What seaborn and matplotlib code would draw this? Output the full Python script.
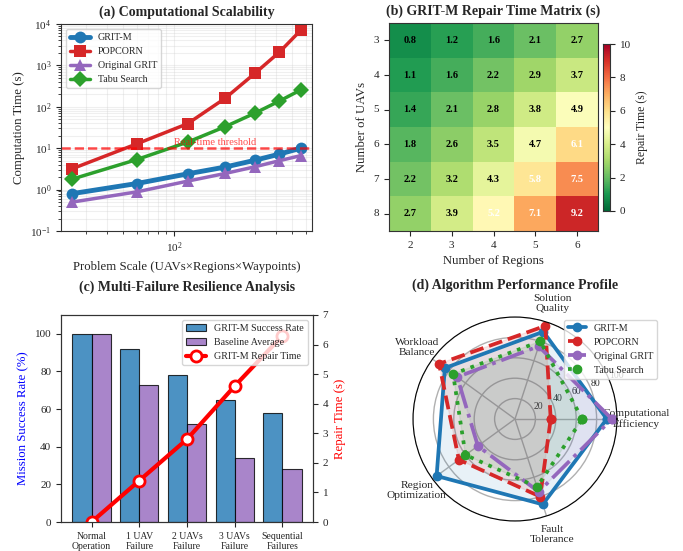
import numpy as np
import pandas as pd
import matplotlib
matplotlib.use("Agg")
import matplotlib.pyplot as plt
import seaborn as sns

# ---------------- data ----------------
problem_scale = [25, 60, 120, 200, 300, 420, 560]
time_gritm = [0.8, 1.4, 2.4, 3.5, 5.1, 7.2, 10.0]
time_popcorn = [3.2, 12.7, 39, 160, 640, 2100, 7000]
time_orig = [0.5, 0.88, 1.6, 2.45, 3.55, 5.0, 6.6]
time_tabu = [1.8, 5.3, 14, 33, 70, 138, 255]
threshold = 10

uavs = [3, 4, 5, 6, 7, 8]
regions = [2, 3, 4, 5, 6]
repair_matrix = [
    [0.8, 1.2, 1.6, 2.1, 2.7],
    [1.1, 1.6, 2.2, 2.9, 3.7],
    [1.4, 2.1, 2.8, 3.8, 4.9],
    [1.8, 2.6, 3.5, 4.7, 6.1],
    [2.2, 3.2, 4.3, 5.8, 7.5],
    [2.7, 3.9, 5.2, 7.1, 9.2],
]

scenarios = ["Normal\nOperation", "1 UAV\nFailure", "2 UAVs\nFailure",
             "3 UAVs\nFailure", "Sequential\nFailures"]
success_gritm = [100, 92, 78, 65, 58]
success_baseline = [100, 73, 52, 34, 28]
repair_time = [0, 1.4, 2.8, 4.6, 6.3]

radar_categories = ["Computational\nEfficiency", "Solution\nQuality", "Workload\nBalance",
                    "Region\nOptimization", "Fault\nTolerance"]
radar_gritm = [90, 90, 85, 95, 88]
radar_popcorn = [35, 96, 92, 68, 80]
radar_orig = [95, 75, 70, 45, 75]
radar_tabu = [66, 80, 75, 60, 70]

# ---------------- style ----------------
sns.set_style("ticks")
plt.rcParams["font.family"] = ["Liberation Serif", "DejaVu Serif"]
plt.rcParams["mathtext.fontset"] = "stix"
plt.rcParams["axes.edgecolor"] = "#333333"

C_BLUE, C_RED, C_PURPLE, C_GREEN = "#1f77b4", "#d62728", "#9467bd", "#2ca02c"
TITLE = dict(fontsize=10, fontweight="bold")
LAB = 9.2
TICK = 8
LEG = 7.2

fig = plt.figure(figsize=(6.83, 5.51), dpi=100)
W, H = 683, 551


def rect(x0, y0, x1, y1):
    return [x0 / W, 1 - y1 / H, (x1 - x0) / W, (y1 - y0) / H]


# ---------------- (a) ----------------
ax_a = fig.add_axes(rect(61, 24, 312, 231))
series_a = [("GRIT-M", time_gritm, C_BLUE, "o", 3.5),
            ("POPCORN", time_popcorn, C_RED, "s", 2.5),
            ("Original GRIT", time_orig, C_PURPLE, "^", 2.5),
            ("Tabu Search", time_tabu, C_GREEN, "D", 2.5)]
for name, vals, col, mk, lw in series_a:
    sns.lineplot(x=problem_scale, y=vals, ax=ax_a, color=col, marker=mk,
                 markersize=8.5, linewidth=lw, label=name, markeredgewidth=0)
ax_a.set_xscale("log")
ax_a.set_yscale("log")
ax_a.set_ylim(0.1, 1e4)
ax_a.axhline(threshold, color="red", linestyle="--", alpha=0.7, linewidth=1.8)
ax_a.text(100, 12, "Real-time threshold", color="red", alpha=0.7, fontsize=7.5)
ax_a.grid(True, which="both", alpha=0.3)
ax_a.set_xlabel("Problem Scale (UAVs×Regions×Waypoints)", fontsize=LAB)
ax_a.set_ylabel("Computation Time (s)", fontsize=LAB)
ax_a.set_title("(a) Computational Scalability", **TITLE)
ax_a.tick_params(labelsize=TICK)
ax_a.legend(loc="upper left", fontsize=LEG)

# ---------------- (b) ----------------
ax_b = fig.add_axes(rect(389, 23, 598, 231))
cax = fig.add_axes(rect(603, 44, 610, 211))
df_mat = pd.DataFrame(repair_matrix, index=uavs, columns=regions)
sns.heatmap(df_mat, ax=ax_b, cbar_ax=cax, cmap="RdYlGn_r", vmin=0, vmax=10,
            annot=True, fmt=".1f", annot_kws={"fontsize": 7.5, "fontweight": "bold"},
            cbar_kws={"label": "Repair Time (s)"})
vals_flat = df_mat.values.flatten()
for t, v in zip(ax_b.texts, vals_flat):
    t.set_color("white" if v > 5 else "black")
for s in ax_b.spines.values():
    s.set_visible(True)
    s.set_color("#333333")
ax_b.tick_params(labelsize=TICK, rotation=0, length=3.5)
ax_b.set_xlabel("Number of Regions", fontsize=LAB)
ax_b.set_ylabel("Number of UAVs", fontsize=LAB)
ax_b.set_title("(b) GRIT-M Repair Time Matrix (s)", **TITLE)
cax.tick_params(labelsize=TICK)
cax.set_ylabel("Repair Time (s)", fontsize=8.5)
for s in cax.spines.values():
    s.set_visible(True)

# ---------------- (c) ----------------
ax_c = fig.add_axes(rect(61, 315, 313, 522))
df_bar = pd.DataFrame({
    "scenario": scenarios * 2,
    "rate": success_gritm + success_baseline,
    "group": ["GRIT-M Success Rate"] * 5 + ["Baseline Average"] * 5,
})
sns.barplot(data=df_bar, x="scenario", y="rate", hue="group", ax=ax_c,
            palette=[C_BLUE, C_PURPLE], saturation=1, alpha=0.8,
            edgecolor="black", linewidth=0.8, width=0.8)
ax_c.set_ylim(0, 110)
ax_c.set_xlabel("")
ax_c.set_ylabel("Mission Success Rate (%)", color="blue", fontsize=LAB)
ax_c.tick_params(labelsize=TICK)
ax_c.tick_params(axis="x", labelsize=7)
ax_c.set_title("(c) Multi-Failure Resilience Analysis", **TITLE, y=1.115, pad=0)
ax_c2 = ax_c.twinx()
sns.lineplot(x=np.arange(len(repair_time)), y=repair_time, ax=ax_c2, color="red",
             marker="o", linewidth=3, markersize=8, markerfacecolor="white",
             markeredgecolor="red", markeredgewidth=2, label="GRIT-M Repair Time")
ax_c2.set_ylim(0, 7)
ax_c2.set_ylabel("Repair Time (s)", color="red", fontsize=LAB)
ax_c2.tick_params(labelsize=TICK)
h1, l1 = ax_c.get_legend_handles_labels()
h2, l2 = ax_c2.get_legend_handles_labels()
ax_c.get_legend().remove()
ax_c2.get_legend().remove()
ax_c2.legend(h1 + h2, l1 + l2, loc="upper right", fontsize=LEG)

# ---------------- (d) ----------------
ax_d = fig.add_axes(rect(413, 317, 617, 521), projection="polar")
angles = np.linspace(0, 2 * np.pi, len(radar_categories), endpoint=False)
angles_c = np.concatenate([angles, angles[:1]])
series_d = [("GRIT-M", radar_gritm, C_BLUE, "-"),
            ("POPCORN", radar_popcorn, C_RED, "--"),
            ("Original GRIT", radar_orig, C_PURPLE, "-."),
            ("Tabu Search", radar_tabu, C_GREEN, ":")]
for name, vals, col, ls in series_d:
    v = np.concatenate([vals, vals[:1]])
    ax_d.plot(angles_c, v, color=col, linestyle=ls, linewidth=2.7, marker="o",
              markersize=6, label=name)
    ax_d.fill(angles_c, v, color=col, alpha=0.1)
ax_d.set_xticks(angles)
ax_d.set_xticklabels(radar_categories, fontsize=8.2)
ax_d.set_ylim(0, 100)
ax_d.set_yticks([20, 40, 60, 80, 100])
ax_d.set_yticklabels(["20", "40", "60", "80", "100"], fontsize=7)
ax_d.grid(True, color="#b0b0b0", linewidth=1)
ax_d.spines["polar"].set_color("black")
ax_d.set_title("(d) Algorithm Performance Profile", **TITLE, y=1.14, pad=0)
ax_d.legend(loc="upper right", bbox_to_anchor=(1.22, 1.01), fontsize=LEG,
            handlelength=1.8)

fig.savefig("out.png", dpi=100)
